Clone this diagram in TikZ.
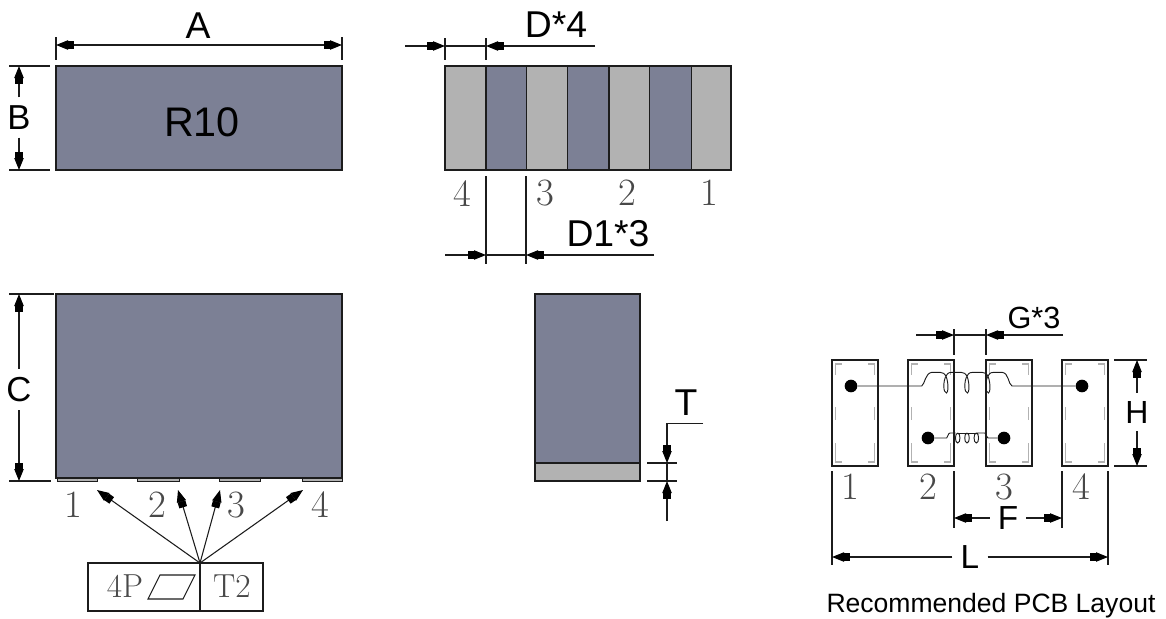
\documentclass[tikz,border=0pt]{standalone}
\usepackage{fontspec}
\usetikzlibrary{arrows.meta,shapes.misc}
\newfontfamily\labelfont{Liberation Sans}
\definecolor{bodygray}{HTML}{7C8095}
\definecolor{padgray}{HTML}{B2B2B2}
\definecolor{pingray}{HTML}{484848}
\definecolor{linegray}{HTML}{1C1C1C}
\tikzset{
  outline/.style={rectangle, draw=linegray, line width=0.9pt, inner sep=0, outer sep=0, anchor=north west},
  bodybox/.style={outline, fill=bodygray},
  padbox/.style={outline, fill=padgray},
  pcbbox/.style={outline, fill=none, minimum width=34.5pt, minimum height=79.5pt},
  dimtext/.style={font=\labelfont\fontsize{28}{30}\selectfont, inner sep=6pt, text=black},
  pinnum/.style={font=\fontsize{29}{30}\selectfont, inner sep=0, text=pingray},
  extline/.style={draw=linegray, line width=0.8pt},
  dimline/.style={draw=linegray, line width=0.8pt, >={Rectangle[length=4.5pt,width=6pt,color=black]Triangle[length=9pt,width=7pt,color=black]}},
  coil/.style={draw=linegray, line width=0.7pt},
  pinhole/.style={circle, fill=black, inner sep=0, minimum size=9.5pt}
}
\begin{document}
\begin{tikzpicture}[x=0.75pt, y=-0.75pt]
  \useasboundingbox (0,0) rectangle (1166,618);

  % top view
  \node[bodybox, minimum width=214.5pt, minimum height=78pt] (topbody) at (56,66) {};
  \node[dimtext, inner sep=0, font=\labelfont\fontsize{31}{33}\selectfont] (marking) at (202,122) {R10};

  \coordinate (Aup1) at (56,37); \coordinate (Alow1) at (56,60);
  \coordinate (Aup2) at (342,37); \coordinate (Alow2) at (342,60);
  \coordinate (Adim1) at (56,45); \coordinate (Adim2) at (342,45);
  \draw[extline] (Aup1) -- (Alow1);
  \draw[extline] (Aup2) -- (Alow2);
  \draw[dimline, <->] (Adim1) -- (Adim2);
  \node[dimtext, inner sep=0] (Alabel) at (198,26) {A};

  \coordinate (Bext1) at (9,66); \coordinate (Bext2) at (50,66);
  \coordinate (Bext3) at (9,170); \coordinate (Bext4) at (50,170);
  \coordinate (Bdim1) at (19,66); \coordinate (Bdim2) at (19,170);
  \draw[extline] (Bext1) -- (Bext2);
  \draw[extline] (Bext3) -- (Bext4);
  \node[dimtext, font=\labelfont\fontsize{26}{28}\selectfont] (Blabel) at (19,117.5) {B};
  \draw[dimline, ->] (Blabel) -- (Bdim1);
  \draw[dimline, ->] (Blabel) -- (Bdim2);

  % striped view
  \foreach \i/\xa/\wid/\col in {1/445/41/padgray, 2/486/40.5/bodygray, 3/526.5/41/padgray, 4/567.5/41.5/bodygray, 5/609/40.5/padgray, 6/649.5/42/bodygray, 7/691.5/39.5/padgray}
    \node[outline, fill=\col, minimum width=\wid*0.75pt, minimum height=78pt] (stripe\i) at (\xa,66) {};
  \foreach \i/\xa/\ya/\txt in {1/462/194/4, 2/545/193/3, 3/627/193/2, 4/709/193/1}
    \node[pinnum] (stripenum\i) at (\xa,\ya) {\txt};

  \coordinate (Dup1) at (445,38); \coordinate (Dlow1) at (445,60);
  \coordinate (Dup2) at (486,38); \coordinate (Dlow2) at (486,60);
  \coordinate (Dfree1) at (405,46); \coordinate (Dfree2) at (595,46);
  \coordinate (Dtip1) at (445,46); \coordinate (Dtip2) at (486,46);
  \draw[extline] (Dup1) -- (Dlow1);
  \draw[extline] (Dup2) -- (Dlow2);
  \draw[dimline, ->] (Dfree1) -- (Dtip1);
  \draw[dimline, ->] (Dfree2) -- (Dtip2);
  \draw[extline] (Dtip1) -- (Dtip2);
  \node[dimtext, inner sep=0] (Dlabel) at (556,25) {D*4};

  \coordinate (Eup1) at (486,176); \coordinate (Elow1) at (486,264);
  \coordinate (Eup2) at (526,176); \coordinate (Elow2) at (526,264);
  \coordinate (Efree1) at (445,255); \coordinate (Efree2) at (654,255);
  \coordinate (Etip1) at (486,255); \coordinate (Etip2) at (526,255);
  \draw[extline] (Eup1) -- (Elow1);
  \draw[extline] (Eup2) -- (Elow2);
  \draw[dimline, ->] (Efree1) -- (Etip1);
  \draw[dimline, ->] (Efree2) -- (Etip2);
  \draw[extline] (Etip1) -- (Etip2);
  \node[dimtext, inner sep=0] (Elabel) at (608,234) {D1*3};

  % bottom view
  \node[bodybox, chamfered rectangle, chamfered rectangle corners={north west, north east}, chamfered rectangle xsep=1.5pt, chamfered rectangle ysep=1.5pt, minimum width=214.5pt, minimum height=138pt] (lowbody) at (56,294) {};
  \foreach \i/\xa/\wid in {1/57/40, 2/137/42, 3/219/41, 4/302/40}
    \node[padbox, line width=0.6pt, minimum width=\wid*0.75pt, minimum height=2.6pt] (lead\i) at (\xa,478) {};
  \foreach \i/\xa in {1/73, 2/157, 3/236, 4/320}
    \node[pinnum] (leadnum\i) at (\xa,505) {\i};

  \coordinate (Cext1) at (9,294); \coordinate (Cext2) at (54,294);
  \coordinate (Cext3) at (9,481); \coordinate (Cext4) at (51,481);
  \coordinate (Cdim1) at (19,294); \coordinate (Cdim2) at (19,481);
  \draw[extline] (Cext1) -- (Cext2);
  \draw[extline] (Cext3) -- (Cext4);
  \node[dimtext, font=\labelfont\fontsize{26}{28}\selectfont] (Clabel) at (19,389.5) {C};
  \draw[dimline, ->] (Clabel) -- (Cdim1);
  \draw[dimline, ->] (Clabel) -- (Cdim2);

  % marking box
  \node[outline, line width=0.8pt, minimum width=84pt, minimum height=36pt] (markL) at (88,563) {};
  \node[outline, line width=0.8pt, minimum width=47.25pt, minimum height=36pt] (markR) at (200,563) {};
  \node[pinnum, font=\fontsize{25}{27}\selectfont] (markP) at (125,586) {4P};
  \node[pinnum, font=\fontsize{25}{27}\selectfont] (markT) at (232,586) {T2};
  \draw[extline] (148,599) -- (160,575) -- (195,575) -- (183,599) -- cycle;
  \foreach \i/\xa in {1/97, 2/178, 3/220, 4/303} {
    \coordinate (marktip\i) at (\xa,490);
    \draw[dimline, ->] (markL.north east) -- (marktip\i);
  }

  % side view
  \node[bodybox, minimum width=78.75pt, minimum height=126.75pt] (sidebody) at (535,294) {};
  \node[padbox, minimum width=78.75pt, minimum height=13.5pt] (sidefoot) at (535,463) {};
  \coordinate (Text1) at (647,463); \coordinate (Text2) at (677,463);
  \coordinate (Text3) at (647,481); \coordinate (Text4) at (677,481);
  \coordinate (Tfree) at (703,423.5); \coordinate (Tbend) at (667,423.5);
  \coordinate (Ttip1) at (667,463); \coordinate (Ttip2) at (667,481);
  \coordinate (Tend) at (667,521);
  \draw[extline] (Text1) -- (Text2);
  \draw[extline] (Text3) -- (Text4);
  \draw[dimline, ->] (Tfree) -- (Tbend) -- (Ttip1);
  \draw[extline] (Ttip1) -- (Ttip2);
  \draw[dimline, ->] (Tend) -- (Ttip2);
  \node[dimtext, inner sep=0] (Tlabel) at (686,403) {T};

  % pcb layout
  \foreach \i/\xa in {1/832, 2/908, 3/986, 4/1062} {
    \node[pcbbox] (pcbpad\i) at (\xa,360) {};
    \begin{scope}[shift={(\xa,360)}, draw=padgray, line width=0.8pt]
      \draw (3.5,15) -- (3.5,4) -- (10,4);
      \draw (36,4) -- (42.5,4) -- (42.5,15);
      \draw (3.5,47) -- (3.5,60);
      \draw (42.5,47) -- (42.5,60);
      \draw (3.5,83) -- (3.5,102) -- (10,102);
      \draw (36,102) -- (42.5,102) -- (42.5,83);
    \end{scope}
  }
  \foreach \i/\xa/\ya in {1/851/386, 2/1082/386, 3/928/438, 4/1004/438}
    \node[pinhole] (pcbdot\i) at (\xa,\ya) {};
  \foreach \i/\xa in {1/850, 2/928, 3/1004, 4/1081}
    \node[pinnum] (pcbnum\i) at (\xa,487) {\i};

  % coils
  \draw[coil] (pcbdot1) -- (921.7,386) .. controls (925,384) and (925,373) .. (932,372.3) -- (940,372.3)
    .. controls (943,372.3) and (945,374) .. (946,376) .. controls (949,384) and (948,393) .. (946.5,393) .. controls (943,393) and (943,381) .. (946,376)
    .. controls (948,372.3) and (950,372.3) .. (952,372.3) -- (961,372.3) .. controls (964,372.3) and (966,374) .. (967,376)
    .. controls (970,384) and (969,393) .. (967.5,393) .. controls (964,393) and (964,381) .. (967,376)
    .. controls (969,372.3) and (971,372.3) .. (973,372.3) -- (982,372.3) .. controls (985,372.3) and (987,374) .. (988,376)
    .. controls (991,384) and (990,393) .. (988.5,393) .. controls (985,393) and (985,381) .. (988,376)
    .. controls (990,372.3) and (992,372.3) .. (994,372.3) -- (1002,372.3) .. controls (1009,373) and (1008,384) .. (1012,386) -- (pcbdot2);
  \draw[coil] (pcbdot3) -- (946.7,438) .. controls (948,437) and (948,433) .. (950,433) -- (955.7,433)
    \foreach \xa in {957.7, 967, 976.3} { (\xa,433) .. controls (\xa+3,433) and (\xa+3,443) .. (\xa,443) .. controls (\xa-3,443) and (\xa-3,433) .. (\xa,433) }
    (976.3,433) -- (985,433) .. controls (986,434) and (986,437) .. (988,438) -- (pcbdot4);
  \draw[coil] (957.7,433) -- (976.3,433);

  % pcb dimensions
  \coordinate (Gup1) at (954,329); \coordinate (Glow1) at (954,355);
  \coordinate (Gup2) at (986,329); \coordinate (Glow2) at (986,355);
  \coordinate (Gfree1) at (916,335); \coordinate (Gfree2) at (1063,335);
  \coordinate (Gtip1) at (954,335); \coordinate (Gtip2) at (986,335);
  \draw[extline] (Gup1) -- (Glow1);
  \draw[extline] (Gup2) -- (Glow2);
  \draw[dimline, ->] (Gfree1) -- (Gtip1);
  \draw[dimline, ->] (Gfree2) -- (Gtip2);
  \draw[extline] (Gtip1) -- (Gtip2);
  \node[dimtext, inner sep=0, font=\labelfont\fontsize{23}{25}\selectfont] (Glabel) at (1034,318) {G*3};

  \coordinate (Hext1) at (1114,360); \coordinate (Hext2) at (1147,360);
  \coordinate (Hext3) at (1114,466); \coordinate (Hext4) at (1147,466);
  \coordinate (Hdim1) at (1137,360); \coordinate (Hdim2) at (1137,466);
  \draw[extline] (Hext1) -- (Hext2);
  \draw[extline] (Hext3) -- (Hext4);
  \node[dimtext, font=\labelfont\fontsize{24}{26}\selectfont] (Hlabel) at (1137,412) {H};
  \draw[dimline, ->] (Hlabel) -- (Hdim1);
  \draw[dimline, ->] (Hlabel) -- (Hdim2);

  \coordinate (Fup1) at (954,471); \coordinate (Flow1) at (954,528);
  \coordinate (Fup2) at (1062,471); \coordinate (Flow2) at (1062,528);
  \coordinate (Fdim1) at (954,518); \coordinate (Fdim2) at (1062,518);
  \draw[extline] (Fup1) -- (Flow1);
  \draw[extline] (Fup2) -- (Flow2);
  \node[dimtext, font=\labelfont\fontsize{25}{27}\selectfont] (Flabel) at (1008,518) {F};
  \draw[dimline, ->] (Flabel) -- (Fdim1);
  \draw[dimline, ->] (Flabel) -- (Fdim2);

  \coordinate (Lup1) at (832,471); \coordinate (Llow1) at (832,565);
  \coordinate (Lup2) at (1108,471); \coordinate (Llow2) at (1108,565);
  \coordinate (Ldim1) at (832,557); \coordinate (Ldim2) at (1108,557);
  \draw[extline] (Lup1) -- (Llow1);
  \draw[extline] (Lup2) -- (Llow2);
  \node[dimtext, font=\labelfont\fontsize{25}{27}\selectfont] (Llabel) at (970,557) {L};
  \draw[dimline, ->] (Llabel) -- (Ldim1);
  \draw[dimline, ->] (Llabel) -- (Ldim2);

  \node[font=\labelfont\fontsize{19.9}{22}\selectfont, inner sep=0] (pcbtitle) at (991,606) {Recommended PCB Layout};
\end{tikzpicture}
\end{document}
